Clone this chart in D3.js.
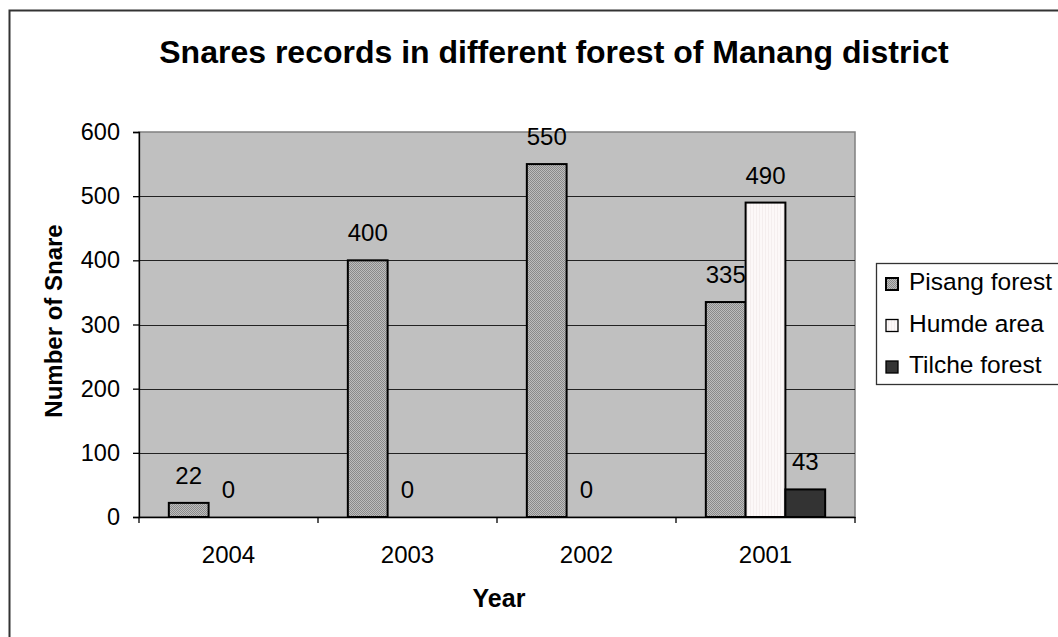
<!DOCTYPE html>
<html>
<head>
<meta charset="utf-8">
<script src="https://cdn.jsdelivr.net/npm/d3@7"></script>
<style>
  html, body { margin: 0; padding: 0; background: #fff; }
  svg text { font-family: "Liberation Sans", Arial, sans-serif; fill: #000; }
</style>
</head>
<body>
<script>
var years = ["2004", "2003", "2002", "2001"];
var seriesNames = ["Pisang forest", "Humde area", "Tilche forest"];
var pisang = [22, 400, 550, 335];
var humde = [0, 0, 0, 490];
var tilche = [null, null, null, 43];
var yTicks = [0, 100, 200, 300, 400, 500, 600];

var width = 1058, height = 637;
var plot = {left: 139, right: 855, top: 132, bottom: 517};

var svg = d3.select("body").append("svg")
    .attr("width", width)
    .attr("height", height);

// fills: fine dither for pisang, faint stripes for humde
var defs = svg.append("defs");
var pat = defs.append("pattern").attr("id", "pisang")
    .attr("patternUnits", "userSpaceOnUse").attr("width", 2).attr("height", 2);
pat.append("rect").attr("width", 2).attr("height", 2).attr("fill", "#bdbdbd");
pat.append("rect").attr("width", 1).attr("height", 1).attr("fill", "#8a8a8a");
pat.append("rect").attr("x", 1).attr("y", 1).attr("width", 1).attr("height", 1).attr("fill", "#8a8a8a");
var pat2 = defs.append("pattern").attr("id", "humde")
    .attr("patternUnits", "userSpaceOnUse").attr("width", 3).attr("height", 3);
pat2.append("rect").attr("width", 3).attr("height", 3).attr("fill", "#fcf8f8");
pat2.append("rect").attr("width", 1).attr("height", 3).attr("fill", "#f4eeee");

var fills = ["url(#pisang)", "url(#humde)", "#333333"];

// outer frame
svg.append("rect")
    .attr("x", 9.5).attr("y", 10.5)
    .attr("width", 1200).attr("height", 800)
    .attr("fill", "#fff").attr("stroke", "#333").attr("stroke-width", 2);

svg.append("text")
    .attr("x", 554).attr("y", 63)
    .attr("text-anchor", "middle")
    .style("font-size", "32px").style("font-weight", "bold")
    .text("Snares records in different forest of Manang district");

var x = d3.scaleBand().domain(years).range([plot.left, plot.right]).padding(0);
var xs = d3.scaleBand().domain(seriesNames).range([0, x.bandwidth()])
    .paddingInner(0).paddingOuter(0.75);
var y = d3.scaleLinear().domain([0, 600]).range([plot.bottom, plot.top]);

// plot background
svg.append("rect")
    .attr("x", plot.left).attr("y", plot.top)
    .attr("width", plot.right - plot.left).attr("height", plot.bottom - plot.top)
    .attr("fill", "#c0c0c0").attr("stroke", "#808080").attr("stroke-width", 1.5);

// gridlines
svg.append("g").selectAll("line")
    .data(yTicks.filter(function(d) { return d > 0 && d < 600; }))
    .enter().append("line")
    .attr("x1", plot.left).attr("x2", plot.right)
    .attr("y1", function(d) { return Math.round(y(d)) + 0.5; })
    .attr("y2", function(d) { return Math.round(y(d)) + 0.5; })
    .attr("stroke", "#222").attr("stroke-width", 1);

// bars
var rows = [];
years.forEach(function(yr, i) {
  [pisang, humde, tilche].forEach(function(s, j) {
    rows.push({year: yr, series: seriesNames[j], value: s[i], idx: j});
  });
});

var bars = rows.filter(function(d) { return d.value != null && d.value > 0; });
svg.append("g").selectAll("rect")
    .data(bars)
    .enter().append("rect")
    .attr("x", function(d) { return x(d.year) + xs(d.series); })
    .attr("y", function(d) { return y(d.value); })
    .attr("width", xs.bandwidth())
    .attr("height", function(d) { return y(0) - y(d.value); })
    .attr("fill", function(d) { return fills[d.idx]; })
    .attr("stroke", "#000").attr("stroke-width", 2);

// value labels
svg.append("g").selectAll("text")
    .data(rows.filter(function(d) { return d.value != null; }))
    .enter().append("text")
    .attr("x", function(d) { return x(d.year) + xs(d.series) + xs.bandwidth() / 2; })
    .attr("y", function(d) { return y(d.value) - 19; })
    .attr("text-anchor", "middle")
    .style("font-size", "24px")
    .text(function(d) { return d.value; });

// y axis
var yAxis = svg.append("g")
    .attr("transform", "translate(" + plot.left + ",0)")
    .call(d3.axisLeft(y).tickValues(yTicks).tickSize(6).tickPadding(13));
yAxis.selectAll("path, line").attr("stroke", "#000").attr("stroke-width", 1.3);
yAxis.selectAll("text").style("font-size", "23.5px").attr("font-family", null);

// x axis
var xAxis = svg.append("g")
    .attr("transform", "translate(0," + plot.bottom + ")")
    .call(d3.axisBottom(x).tickSize(0).tickPadding(29));
xAxis.select("path").attr("stroke", "#000").attr("stroke-width", 1.3);
xAxis.selectAll("text").style("font-size", "24px").attr("font-family", null);
var bounds = years.map(function(d) { return x(d); }).concat([x(years[years.length - 1]) + x.bandwidth()]);
xAxis.selectAll(".bound").data(bounds).enter().append("line")
    .attr("x1", function(d) { return d; }).attr("x2", function(d) { return d; })
    .attr("y1", 0).attr("y2", 6)
    .attr("stroke", "#000").attr("stroke-width", 1.3);

// axis titles
svg.append("text")
    .attr("x", (plot.left + plot.right) / 2 + 2).attr("y", 607)
    .attr("text-anchor", "middle")
    .style("font-size", "25px").style("font-weight", "bold")
    .text("Year");
svg.append("text")
    .attr("transform", "translate(62," + 321 + ") rotate(-90)")
    .attr("text-anchor", "middle")
    .style("font-size", "24px").style("font-weight", "bold")
    .text("Number of Snare");

// legend
var legend = svg.append("g");
legend.append("rect")
    .attr("x", 876.5).attr("y", 263.5)
    .attr("width", 300).attr("height", 121)
    .attr("fill", "#fff").attr("stroke", "#333").attr("stroke-width", 1.3);
var item = legend.selectAll("g.item").data(seriesNames).enter().append("g")
    .attr("transform", function(d, i) { return "translate(0," + (290 + i * 41.5) + ")"; });
item.append("rect")
    .attr("x", 886).attr("y", -12)
    .attr("width", 12).attr("height", 12)
    .attr("fill", function(d, i) { return fills[i]; })
    .attr("stroke", "#000").attr("stroke-width", function(d, i) { return i === 0 ? 2 : 1.3; });
item.append("text")
    .attr("x", 909).attr("y", 0)
    .style("font-size", "24.5px")
    .text(function(d) { return d; });
</script>
</body>
</html>
